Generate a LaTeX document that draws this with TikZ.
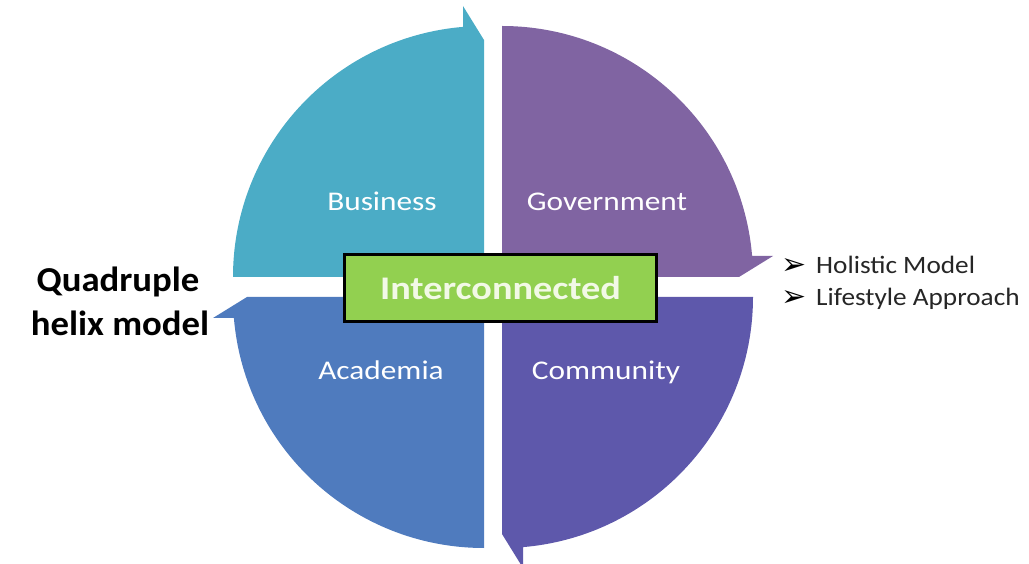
\documentclass[tikz,border=0pt]{standalone}
\usepackage{fontspec}
\setmainfont{Carlito}
\newfontfamily\dejavu{DejaVu Sans}
\newfontfamily\widelab[FakeStretch=1.16]{Carlito}
\newfontfamily\widetitle[FakeStretch=1.05]{Carlito}
\newfontfamily\widebul[FakeStretch=1.09]{Carlito}
\definecolor{bizc}{HTML}{4BACC6}
\definecolor{govc}{HTML}{8064A2}
\definecolor{comc}{HTML}{5E58AB}
\definecolor{acac}{HTML}{4F7BBE}
\definecolor{boxg}{HTML}{92D050}
\definecolor{boxt}{HTML}{F2F9E6}
\definecolor{bultxt}{HTML}{262626}
\tikzset{
  quadarrow/.pic={
    \fill[pic actions] (0,0) -- (-251,0) arc[start angle=180, end angle=94.8, radius=251pt]
      -- (-21,271) -- (0,237) -- cycle;
  },
  quadlabel/.style={text=white, anchor=base, inner sep=0pt, font=\widelab\fontsize{27}{30}\selectfont},
  centerbox/.style={draw=black, line width=3pt, fill=boxg, minimum width=312pt, minimum height=67pt,
     inner sep=0pt, text=boxt, font=\widelab\fontsize{33}{36}\selectfont\bfseries},
  sidetitle/.style={text=black, anchor=base, inner sep=0pt, font=\widetitle\fontsize{35}{42}\selectfont\bfseries},
  bullettxt/.style={text=bultxt, anchor=base west, inner sep=0pt, font=\widebul\fontsize{25}{28}\selectfont},
  bulletmark/.style={text=black, inner sep=0pt, font=\dejavu\fontsize{30}{32}\selectfont}
}
\begin{document}
\begin{tikzpicture}[x=1pt,y=1pt]
\useasboundingbox (0,0) rectangle (1029,563);
\pic[fill=bizc] (biz) at (484,286) {quadarrow};
\pic[fill=govc, rotate=-90] (gov) at (502,286) {quadarrow};
\pic[fill=comc, rotate=180] (com) at (502,266) {quadarrow};
\pic[fill=acac, rotate=90] (aca) at (484,266) {quadarrow};
\node[quadlabel] (lbiz) at (382,352) {Business};
\node[quadlabel] (lgov) at (607,352) {Government};
\node[quadlabel] (laca) at (381,183) {Academia};
\node[quadlabel] (lcom) at (606,183) {Community};
\node[centerbox] (ctr) at (500.5,275) {Interconnected};
\node[sidetitle] (title1) at (118,271) {Quadruple};
\node[sidetitle] (title2) at (120,227) {helix model};
\node[bulletmark] (b1) at (794,296) {➢};
\node[bullettxt] (t1) at (816,289) {Holistic Model};
\node[bulletmark] (b2) at (794,264.5) {➢};
\node[bullettxt] (t2) at (816,257) {Lifestyle Approach};
\end{tikzpicture}
\end{document}
